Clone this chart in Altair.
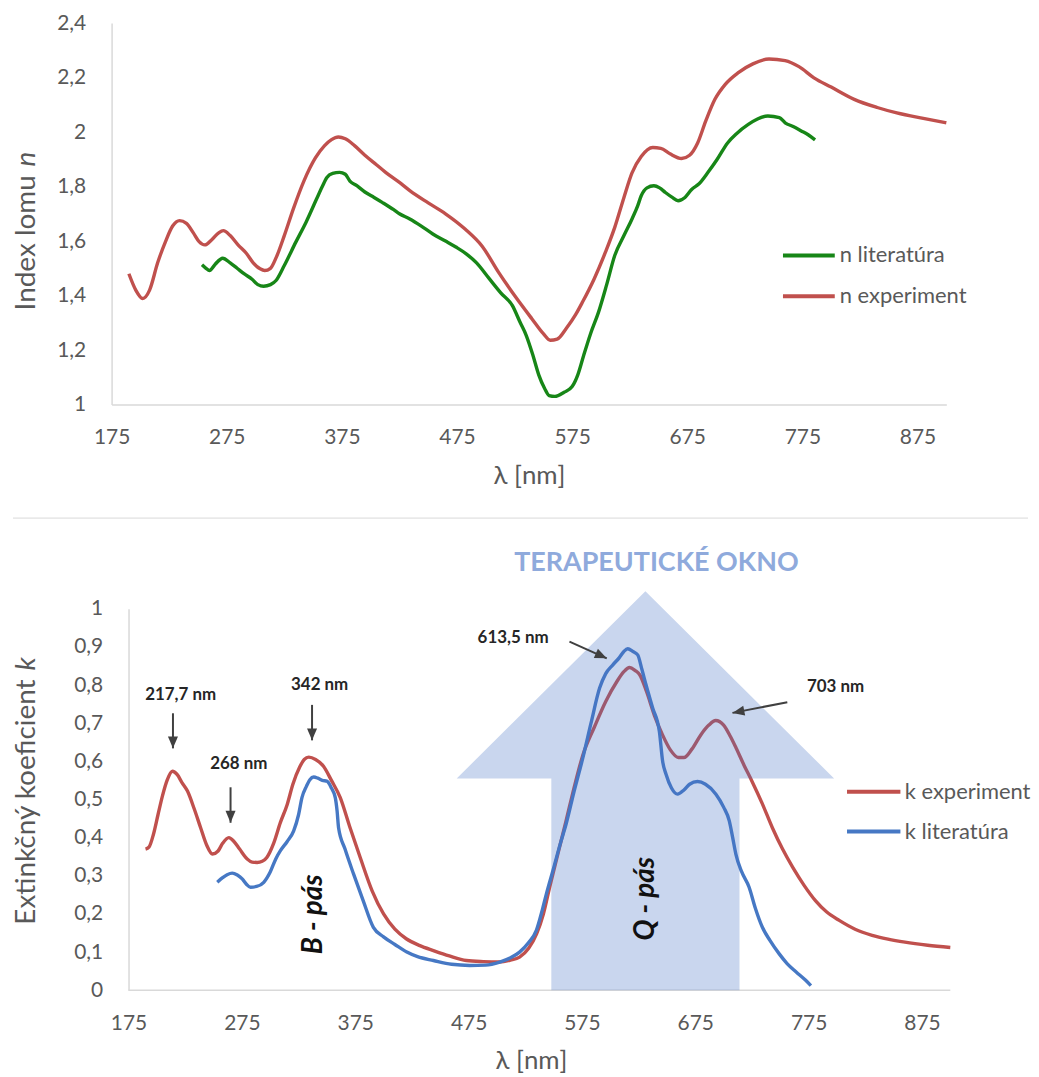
import math
import altair as alt
import pandas as pd

FONT = "Lato"
GRAY = "#595959"
AXIS_LINE = "#D9D9D9"

# ---------------- data ----------------
x_ticks = [175, 275, 375, 475, 575, 675, 775, 875]
n_ticks = [1, 1.2, 1.4, 1.6, 1.8, 2, 2.2, 2.4]
k_ticks = [0, 0.1, 0.2, 0.3, 0.4, 0.5, 0.6, 0.7, 0.8, 0.9, 1]

top_series = ["n literatúra", "n experiment"]
top_colors = ["#178617", "#C0504D"]
bottom_series = ["k experiment", "k literatúra"]
bottom_colors = ["#C0504D", "#4678C4"]

n_exp_wl = [190, 196, 202, 208, 215, 222, 228, 234, 240, 246, 251, 256, 262, 268, 272,
            278, 285, 292, 298, 304, 308, 313, 318, 325, 333, 342, 352, 360, 366, 372,
            378, 386, 395, 405, 413, 425, 434, 450, 465, 482, 497, 511, 525, 540, 550,
            556, 562, 570, 578, 584, 594, 604, 612, 620, 627, 635, 645, 652, 660, 670,
            677, 684, 691, 699, 708, 719, 732, 746, 760, 772, 785, 800, 820, 840, 857,
            880, 900]
n_exp_val = [1.48, 1.42, 1.389, 1.42, 1.52, 1.60, 1.655, 1.675, 1.665, 1.63, 1.598, 1.586,
             1.605, 1.63, 1.638, 1.62, 1.585, 1.555, 1.52, 1.498, 1.492, 1.50, 1.54, 1.62,
             1.72, 1.82, 1.905, 1.95, 1.972, 1.982, 1.975, 1.95, 1.915, 1.88, 1.852, 1.815,
             1.785, 1.74, 1.70, 1.644, 1.58, 1.486, 1.40, 1.315, 1.26, 1.236, 1.24, 1.28,
             1.33, 1.376, 1.46, 1.56, 1.65, 1.76, 1.85, 1.91, 1.943, 1.94, 1.92, 1.903,
             1.915, 1.96, 2.04, 2.12, 2.175, 2.217, 2.25, 2.268, 2.262, 2.24, 2.199, 2.165,
             2.12, 2.09, 2.07, 2.05, 2.034]

n_lit_wl = [253.5, 257, 260, 265, 271.5, 278, 284, 290, 297, 302, 307, 313, 318, 325, 335,
            344, 353, 358, 362, 367, 373, 378, 382, 388, 395, 403, 410, 420, 425, 434, 444,
            454, 465, 474, 483, 492, 503, 513, 523, 530, 535, 541, 546, 551, 555, 560, 568,
            575, 580, 585, 591, 598, 605, 612, 620, 627, 632, 635, 640, 646, 651, 656, 662,
            667, 673, 679, 685, 693, 701, 710, 718, 728, 736, 745, 755, 760, 767, 774, 780,
            786]
n_lit_val = [1.513, 1.50, 1.492, 1.515, 1.537, 1.52, 1.50, 1.48, 1.46, 1.44, 1.434, 1.44,
             1.456, 1.51, 1.596, 1.67, 1.754, 1.80, 1.833, 1.848, 1.852, 1.845, 1.82, 1.803,
             1.78, 1.76, 1.742, 1.715, 1.70, 1.681, 1.655, 1.626, 1.60, 1.578, 1.553, 1.52,
             1.462, 1.41, 1.364, 1.30, 1.255, 1.18, 1.109, 1.06, 1.033, 1.03, 1.045, 1.066,
             1.11, 1.18, 1.26, 1.34, 1.44, 1.547, 1.62, 1.681, 1.73, 1.766, 1.795, 1.803,
             1.795, 1.778, 1.76, 1.748, 1.76, 1.79, 1.809, 1.852, 1.90, 1.96, 1.995, 2.028,
             2.048, 2.059, 2.053, 2.034, 2.02, 2.004, 1.99, 1.971]

k_exp_wl = [190, 193, 197, 201, 205, 209, 213.7, 218, 222, 227, 233, 238.6, 244, 249, 254,
            258, 263.5, 268, 273, 279.7, 284, 288.5, 293, 297, 303, 309, 315, 320, 326, 330,
            334, 340, 347, 354, 361.8, 370, 379.4, 390, 400, 410, 420, 432, 444, 458, 473,
            488, 502, 512, 520, 528, 535, 541, 546.5, 554, 561, 568, 576, 586, 596, 606,
            612, 617, 622, 626, 632, 639, 646, 653, 660, 665, 672, 680, 687, 693, 700, 706,
            711, 718, 725, 734, 743, 752, 761, 771, 781, 791, 802, 816, 831, 845, 860, 880,
            900]
k_exp_val = [0.37, 0.375, 0.409, 0.46, 0.51, 0.55, 0.574, 0.565, 0.545, 0.522, 0.475, 0.426,
             0.38, 0.357, 0.365, 0.385, 0.40, 0.39, 0.37, 0.344, 0.336, 0.335, 0.338, 0.348,
             0.385, 0.44, 0.487, 0.54, 0.585, 0.605, 0.611, 0.605, 0.587, 0.55, 0.505, 0.43,
             0.348, 0.26, 0.20, 0.16, 0.135, 0.117, 0.104, 0.09, 0.078, 0.075, 0.074, 0.079,
             0.087, 0.11, 0.148, 0.20, 0.27, 0.36, 0.444, 0.53, 0.618, 0.69, 0.757, 0.81,
             0.835, 0.846, 0.838, 0.827, 0.783, 0.72, 0.67, 0.63, 0.61, 0.61, 0.632, 0.67,
             0.695, 0.707, 0.695, 0.665, 0.635, 0.59, 0.548, 0.49, 0.426, 0.37, 0.322, 0.275,
             0.235, 0.205, 0.183, 0.16, 0.144, 0.134, 0.126, 0.118, 0.112]

k_lit_wl = [253.3, 258, 262, 266.5, 271, 275.3, 279, 282.6, 288, 294.3, 300, 305, 309, 315,
            320.7, 325, 328, 332, 335, 338.3, 342, 346, 350, 354, 357.4, 359, 360.3, 366,
            373.5, 382, 391, 400, 410, 420.5, 430, 444, 460, 476, 490, 502.5, 512, 520, 528,
            534.8, 540, 543.6, 550, 556, 561, 568, 575.8, 583, 590.6, 596, 602.3, 608, 612,
            615.4, 620, 624.2, 628, 631.6, 637.4, 643.3, 646.2, 649.2, 654, 659.4, 665, 670,
            677, 684, 693.2, 700, 705, 708, 710.8, 716, 722.5, 728, 734.2, 741, 748.9, 756,
            764, 772.4, 777]
k_lit_val = [0.283, 0.295, 0.303, 0.307, 0.302, 0.292, 0.278, 0.27, 0.272, 0.283, 0.31, 0.345,
             0.366, 0.39, 0.418, 0.46, 0.505, 0.535, 0.552, 0.559, 0.556, 0.55, 0.548, 0.53,
             0.505, 0.47, 0.426, 0.37, 0.305, 0.235, 0.165, 0.14, 0.12, 0.10, 0.088, 0.078,
             0.068, 0.065, 0.066, 0.074, 0.085, 0.10, 0.125, 0.157, 0.21, 0.252, 0.32, 0.385,
             0.435, 0.52, 0.609, 0.70, 0.792, 0.83, 0.853, 0.872, 0.888, 0.895, 0.888, 0.879,
             0.84, 0.80, 0.74, 0.679, 0.60, 0.566, 0.53, 0.514, 0.525, 0.54, 0.547, 0.54,
             0.514, 0.48, 0.444, 0.40, 0.357, 0.31, 0.27, 0.215, 0.165, 0.13, 0.096, 0.07,
             0.048, 0.026, 0.012]

# therapeutic window arrow outline (vertices)
window_title = "TERAPEUTICKÉ OKNO"
window_title_wl = [640.7]
window_title_k = [1.12]
window_wl = [548, 548, 464.5, 631, 797.5, 714, 714]
window_k = [0, 0.555, 0.555, 1.046, 0.555, 0.555, 0]

# peak annotations
ann_labels = ["217,7 nm", "268 nm", "342 nm", "613,5 nm", "703 nm"]
ann_label_wl = [221, 272.3, 343.6, 514.3, 798.8]
ann_label_k = [0.775, 0.593, 0.80, 0.922, 0.795]
arrow_start_wl = [214.2, 265, 336.9, 564, 756.2]
arrow_start_k = [0.726, 0.532, 0.748, 0.914, 0.755]
arrow_end_wl = [214.2, 265, 336.9, 596.9, 707.8]
arrow_end_k = [0.634, 0.439, 0.655, 0.870, 0.727]

band_labels = ["B - pás", "Q - pás"]
band_wl = [338.3, 631.6]
band_k = [0.199, 0.24]

# ---------------- layout constants ----------------
TOP_W, TOP_H = 838, 383
X_DOMAIN = [175, 900]
SHIFT = 17                      # bottom plot starts 17 px right of the top one
BOT_PX_PER_NM = 825 / 725
BOT_W, BOT_H = 825 + SHIFT, 383
BOT_DOMAIN = [175 - SHIFT / BOT_PX_PER_NM, 900]
LABEL_EXPR = "replace(format(datum.value, '.1~f'), '.', ',')"
TITLE_X = -85


def x_axis(show_domain=True):
    return alt.Axis(values=x_ticks, title="λ [nm]", grid=False, ticks=False, tickSize=0,
                    domain=show_domain, domainColor=AXIS_LINE, domainWidth=1.5,
                    labelFont=FONT, labelFontSize=21,
                    labelColor=GRAY, labelPadding=22, labelFlush=False, labelOverlap=False,
                    titleFont=FONT, titleFontSize=26, titleFontWeight="normal",
                    titleColor=GRAY, titleY=71, titleBaseline="middle")


def y_axis(values, title, tx, ty, offset=0):
    return alt.Axis(values=values, title=title, grid=False, ticks=False, tickSize=0,
                    offset=offset,
                    domainColor=AXIS_LINE, domainWidth=1.5, labelFont=FONT, labelFontSize=21,
                    labelColor=GRAY, labelPadding=26, labelExpr=LABEL_EXPR,
                    labelFlush=False, labelOverlap=False,
                    titleFont=FONT, titleFontSize=28, titleFontWeight="normal",
                    titleColor=GRAY, titleX=tx, titleY=ty, titleAngle=270,
                    titleAlign="left", titleBaseline="middle")


def legend_layers(names, colors, x0, x1, xt, y0, dy):
    layers = []
    for i, (name, col) in enumerate(zip(names, colors)):
        y = y0 + dy * i
        base = alt.Chart(pd.DataFrame({"label": [name]}))
        layers.append(base.mark_rule(color=col, strokeWidth=4).encode(
            x=alt.value(x0), x2=alt.value(x1), y=alt.value(y)))
        layers.append(base.mark_text(align="left", baseline="middle", font=FONT,
                                     fontSize=22, color=GRAY).encode(
            x=alt.value(xt), y=alt.value(y), text="label:N"))
    return layers


def italic_letter(letter, x, y):
    return alt.Chart(pd.DataFrame({"t": [letter]})).mark_text(
        font=FONT, fontSize=28, fontStyle="italic", angle=270, align="left",
        baseline="middle", color=GRAY).encode(x=alt.value(x), y=alt.value(y), text="t:N")


# ---------------- top chart ----------------
top_df = pd.DataFrame({
    "wl": n_lit_wl + n_exp_wl,
    "val": n_lit_val + n_exp_val,
    "series": [top_series[0]] * len(n_lit_wl) + [top_series[1]] * len(n_exp_wl),
})

top_lines = alt.Chart(top_df).mark_line(strokeWidth=3.4, strokeJoin="round",
                                        interpolate="monotone").encode(
    x=alt.X("wl:Q", scale=alt.Scale(domain=X_DOMAIN, nice=False, zero=False), axis=x_axis()),
    y=alt.Y("val:Q", scale=alt.Scale(domain=[1, 2.4], nice=False, zero=False),
            axis=y_axis(n_ticks, "Index lomu", TITLE_X, 288)),
    color=alt.Color("series:N", scale=alt.Scale(domain=top_series, range=top_colors),
                    legend=None),
)

separator = alt.Chart(pd.DataFrame({"a": [0]})).mark_rule(color=AXIS_LINE, strokeWidth=1).encode(
    x=alt.value(-99), x2=alt.value(920), y=alt.value(497))

top = alt.layer(
    top_lines,
    italic_letter("n", TITLE_X, 144),
    *legend_layers(top_series, top_colors, 674, 726, 731, 233.3, 41),
    separator,
).properties(width=TOP_W, height=TOP_H)

# ---------------- bottom chart ----------------
bot_df = pd.DataFrame({
    "wl": k_exp_wl + k_lit_wl,
    "val": k_exp_val + k_lit_val,
    "series": [bottom_series[0]] * len(k_exp_wl) + [bottom_series[1]] * len(k_lit_wl),
})

xs_b = alt.Scale(domain=BOT_DOMAIN, nice=False, zero=False)
ys_b = alt.Scale(domain=[0, 1], nice=False, zero=False)
X_AXIS_B = x_axis(show_domain=False)
Y_AXIS_B = y_axis(k_ticks, "Extinkčný koeficient", TITLE_X - SHIFT, 316.7, offset=-SHIFT)


def bx(field):
    return alt.X(field, scale=xs_b, axis=X_AXIS_B)


def by(field):
    return alt.Y(field, scale=ys_b, axis=Y_AXIS_B)


bot_lines = alt.Chart(bot_df).mark_line(strokeWidth=3.4, strokeJoin="round",
                                        interpolate="monotone").encode(
    x=bx("wl:Q"),
    y=by("val:Q"),
    color=alt.Color("series:N", scale=alt.Scale(domain=bottom_series, range=bottom_colors),
                    legend=None),
)

axis_df = pd.DataFrame({"wl0": [X_DOMAIN[0]], "wl1": [X_DOMAIN[1]], "k": [0]})
x_axis_line = alt.Chart(axis_df).mark_rule(color=AXIS_LINE, strokeWidth=1.5).encode(
    x=bx("wl0:Q"), x2="wl1:Q", y=by("k:Q"))

win_df = pd.DataFrame({"wl": window_wl, "k": window_k, "i": list(range(len(window_wl)))})
window = alt.Chart(win_df).mark_line(fill="#4472C4", fillOpacity=0.29, strokeWidth=0,
                                     strokeOpacity=0).encode(
    x=bx("wl:Q"), y=by("k:Q"), order="i:O")

win_title = alt.Chart(pd.DataFrame({"t": [window_title], "wl": window_title_wl,
                                    "k": window_title_k})).mark_text(
    font=FONT, fontSize=27, fontWeight="bold", color="#8FAADC").encode(
    x=bx("wl:Q"), y=by("k:Q"), text="t:N")

px_y = BOT_H / 1.0
angles = []
for a, b, c, d in zip(arrow_start_wl, arrow_start_k, arrow_end_wl, arrow_end_k):
    ux = (c - a) * BOT_PX_PER_NM
    uy = -(d - b) * px_y
    angles.append(math.degrees(math.atan2(-ux, uy)) % 360)

arr_df = pd.DataFrame({"x0": arrow_start_wl, "y0": arrow_start_k, "x1": arrow_end_wl,
                       "y1": arrow_end_k, "ang": angles})
arrow_lines = alt.Chart(arr_df).mark_rule(color="#404040", strokeWidth=2).encode(
    x=bx("x0:Q"), y=by("y0:Q"), x2="x1:Q", y2="y1:Q")
arrow_heads = alt.Chart(arr_df).mark_point(shape="M0,0L-0.42,-1L0.42,-1Z", filled=True,
                                           color="#404040", size=576, opacity=1).encode(
    x=bx("x1:Q"), y=by("y1:Q"), angle=alt.Angle("ang:Q", scale=None))

ann_df = pd.DataFrame({"label": ann_labels, "wl": ann_label_wl, "k": ann_label_k})
ann_text = alt.Chart(ann_df).mark_text(font=FONT, fontSize=17, fontWeight="bold",
                                       color="#262626").encode(
    x=bx("wl:Q"), y=by("k:Q"), text="label:N")

band_df = pd.DataFrame({"label": band_labels, "wl": band_wl, "k": band_k})
band_text = alt.Chart(band_df).mark_text(font=FONT, fontSize=28, fontWeight="bold",
                                         fontStyle="italic", angle=270,
                                         color="#111111").encode(
    x=bx("wl:Q"), y=by("k:Q"), text="label:N")

bottom = alt.layer(
    bot_lines,
    x_axis_line,
    window,
    win_title,
    arrow_lines,
    arrow_heads,
    ann_text,
    band_text,
    italic_letter("k", TITLE_X, 62),
    *legend_layers(bottom_series, bottom_colors, 721.3 + SHIFT, 774.9 + SHIFT, 779.3 + SHIFT,
                   183.7, 40),
).properties(width=BOT_W, height=BOT_H)

chart = alt.vconcat(top, bottom, spacing=30).resolve_scale(
    color="independent", x="independent", y="independent"
).properties(
    padding={"left": 4, "top": 2, "right": 0, "bottom": 0},
    background="white",
).configure_view(strokeWidth=0)

chart.save("out.html", embed_options={"renderer": "svg", "actions": False})
